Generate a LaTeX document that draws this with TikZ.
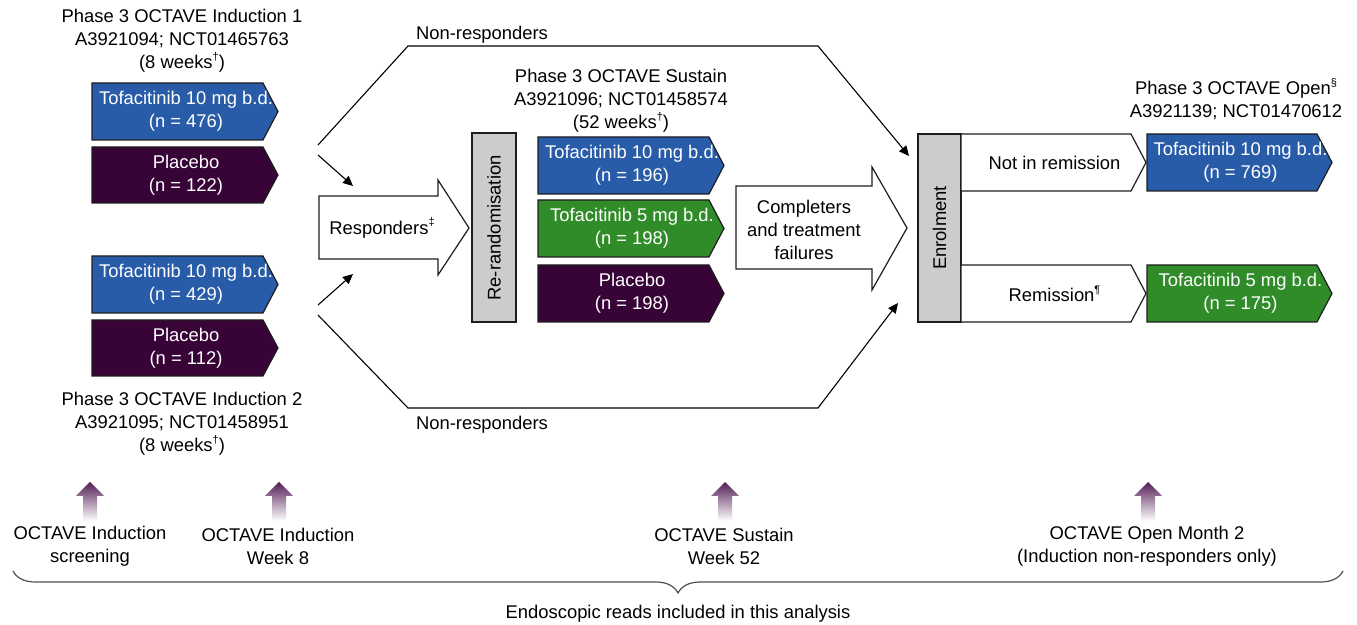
\documentclass[tikz,border=0pt]{standalone}
\usepackage{fontspec}
\setmainfont{Liberation Sans}
\usetikzlibrary{arrows.meta,decorations.pathreplacing}
\definecolor{tblue}{RGB}{40,92,168}
\definecolor{tpurple}{RGB}{56,4,56}
\definecolor{tgreen}{RGB}{48,140,40}
\definecolor{tgray}{RGB}{204,204,204}
\definecolor{apurple}{RGB}{84,30,86}
\definecolor{bracegray}{RGB}{80,80,80}
\newcommand\fsz{\fontsize{9.2}{11.5}\selectfont}
\newcommand\sups[1]{\raisebox{0.85ex}{\fontsize{5.5}{6}\selectfont #1}}
% name x1 y1 x2 y2 fill textcolour text
\newcommand\armbox[8]{%
  \draw[boxline, fill=#6] (#2,#3) -- (#4-15,#3) -- (#4,{(#3+#5)/2}) -- (#4-15,#5) -- (#2,#5) -- cycle;
  \node[txt, text=#7] (#1) at ({(#2+#4)/2+1},{(#3+#5)/2}) {#8};}
\newcommand\uparr[2]{%
  \shade[top color=apurple, middle color=apurple!55, bottom color=white] (#1,482) -- (#1+14,496) -- (#1+7,496) -- (#1+7,521) -- (#1-7,521) -- (#1-7,496) -- (#1-14,496) -- cycle;
  \coordinate (#2) at (#1,482);}
\tikzset{
  txt/.style={font=\fsz, align=center, inner sep=0pt, text=black},
  boxline/.style={draw={rgb,255:red,30;green,30;blue,30}, line width=0.6pt},
  conn/.style={draw=black, line width=0.55pt, -{Triangle[length=5pt,width=4.6pt]}},
  graybox/.style={boxline, fill=tgray}
}
\begin{document}
\begin{tikzpicture}[x=0.5pt,y=-0.5pt]
\useasboundingbox (0,0) rectangle (1357,625);

% ---- Induction titles
\node[txt] (ind1) at (182,41) {Phase 3 OCTAVE Induction 1\\A3921094; NCT01465763\\(8 weeks\sups{†})};
\node[txt] (ind2) at (182,424) {Phase 3 OCTAVE Induction 2\\A3921095; NCT01458951\\(8 weeks\sups{†})};

% ---- Induction arms
\armbox{i1a}{92}{83}{278}{140}{tblue}{white}{Tofacitinib 10 mg b.d.\\(n = 476)}
\armbox{i1b}{92}{147}{278}{203}{tpurple}{white}{Placebo\\(n = 122)}
\armbox{i2a}{92}{256}{278}{313}{tblue}{white}{Tofacitinib 10 mg b.d.\\(n = 429)}
\armbox{i2b}{92}{320}{278}{376}{tpurple}{white}{Placebo\\(n = 112)}

% ---- Responders block arrow
\draw[boxline, fill=white] (319,196) -- (438,196) -- (438,180) -- (469,228) -- (438,275) -- (438,259) -- (319,259) -- cycle;
\node[txt] (resp) at (382,228) {Responders\sups{‡}};

% ---- Re-randomisation
\draw[graybox] (472,133) rectangle (516,322);
\node[txt, rotate=90] (rerand) at (494,228) {Re-randomisation};

% ---- Sustain
\node[txt] (sus) at (621,101) {Phase 3 OCTAVE Sustain\\A3921096; NCT01458574\\(52 weeks\sups{†})};
\armbox{s1}{538}{137}{724}{194}{tblue}{white}{Tofacitinib 10 mg b.d.\\(n = 196)}
\armbox{s2}{538}{200}{724}{257}{tgreen}{white}{Tofacitinib 5 mg b.d.\\(n = 198)}
\armbox{s3}{538}{265}{724}{322}{tpurple}{white}{Placebo\\(n = 198)}

% ---- Completers block arrow
\draw[boxline, fill=white] (736,186) -- (872,186) -- (872,167) -- (907,228) -- (872,290) -- (872,269) -- (736,269) -- cycle;
\node[txt] (comp) at (804,230) {Completers\\and treatment\\failures};

% ---- Enrolment
\draw[graybox] (918,134) rectangle (961,322);
\node[txt, rotate=90] (enrol) at (939.5,228) {Enrolment};
\armbox{nir}{961}{134}{1146}{191}{white}{black}{Not in remission}
\armbox{rem}{961}{265}{1146}{322}{white}{black}{Remission\sups{¶}}

% ---- Open
\node[txt] (open) at (1236,99.5) {Phase 3 OCTAVE Open\sups{§}\\A3921139; NCT01470612};
\armbox{o1}{1147}{134}{1332}{191}{tblue}{white}{Tofacitinib 10 mg b.d.\\(n = 769)}
\armbox{o2}{1147}{265}{1332}{322}{tgreen}{white}{Tofacitinib 5 mg b.d.\\(n = 175)}

% ---- Connectors
\coordinate (r1s) at (318,155); \coordinate (r1e) at (353,186);
\coordinate (r2s) at (318,305); \coordinate (r2e) at (353,274);
\draw[conn] (r1s) -- (r1e);
\draw[conn] (r2s) -- (r2e);

\coordinate (nt0) at (318,145); \coordinate (nt1) at (408,46);
\coordinate (nt2) at (818,46);  \coordinate (nt3) at (909,156);
\draw[conn] (nt0) -- (nt1) -- (nt2) -- (nt3);
\coordinate (nb0) at (318,315); \coordinate (nb1) at (408,408);
\coordinate (nb2) at (818,408); \coordinate (nb3) at (898,303);
\draw[conn] (nb0) -- (nb1) -- (nb2) -- (nb3);
\node[txt] (nrt) at (482,35) {Non-responders};
\node[txt] (nrb) at (482,425) {Non-responders};

% ---- Timeline arrows and labels
\uparr{90}{u1}
\uparr{279}{u2}
\uparr{725}{u3}
\uparr{1148}{u4}
\node[txt] (l1) at (90,546) {OCTAVE Induction\\screening};
\node[txt] (l2) at (278,546) {OCTAVE Induction\\Week 8};
\node[txt] (l3) at (724,546) {OCTAVE Sustain\\Week 52};
\node[txt] (l4) at (1147,546) {OCTAVE Open Month 2\\(Induction non-responders only)};

% ---- Brace
\coordinate (bR) at (1343,571); \coordinate (bL) at (13,571);
\draw[bracegray, line width=0.6pt, decorate, decoration={brace, amplitude=11pt}] (bR) -- (bL);
\node[txt] (endo) at (678,614) {Endoscopic reads included in this analysis};
\end{tikzpicture}
\end{document}
